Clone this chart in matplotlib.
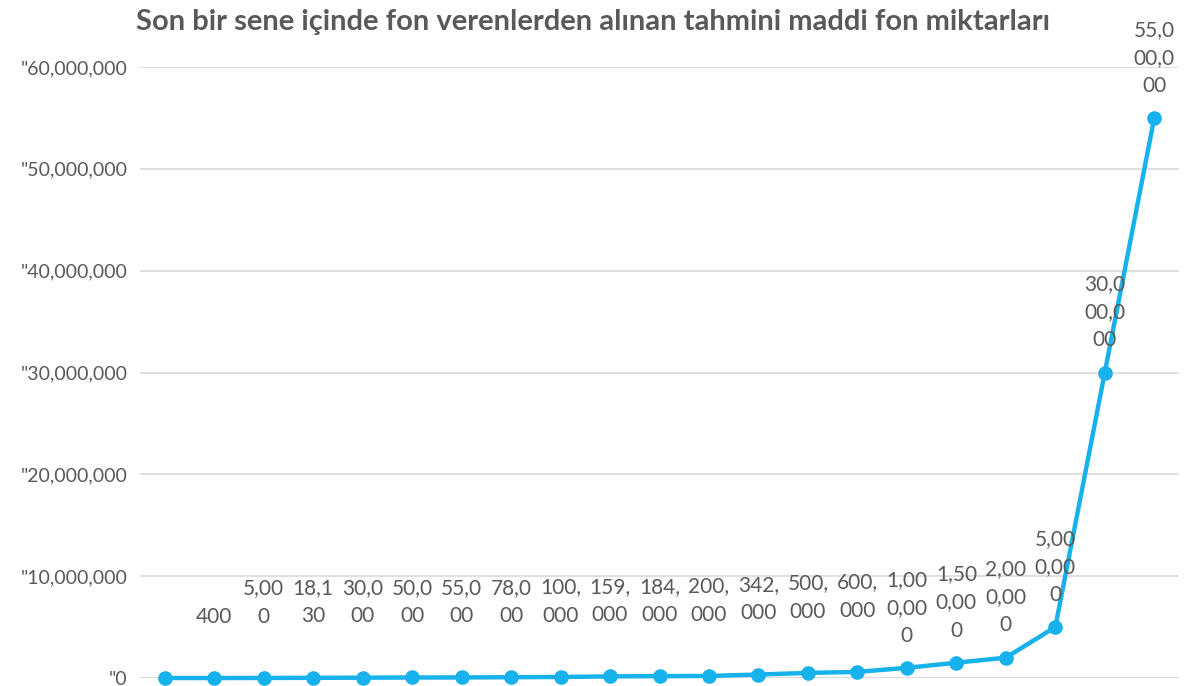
import matplotlib.pyplot as plt
import numpy as np

plt.rcParams['font.family'] = ['Lato', 'DejaVu Sans']

# values (first point carries no visible label)
values = [0, 400, 5000, 18130, 30000, 50000, 55000, 78000, 100000, 159000,
          184000, 200000, 342000, 500000, 600000, 1000000, 1500000, 2000000,
          5000000, 30000000, 55000000]
show_label = [False] + [True] * 20
yticks = [0, 10000000, 20000000, 30000000, 40000000, 50000000, 60000000]

title = 'Son bir sene içinde fon verenlerden alınan tahmini maddi fon miktarları'

line_color = '#17B1EB'
text_color = '#595959'


def wrap_label(v, width=4):
    s = f'{v:,}'
    parts = [s[i:i + width] for i in range(0, len(s), width)]
    return '\n'.join(parts)


fig = plt.figure(figsize=(11.84, 6.86), dpi=100)
ax = fig.add_axes([140 / 1184, 8 / 686, 1039 / 1184, 611 / 686])

x = np.arange(len(values))
ax.plot(x, values, color=line_color, linewidth=3.2, marker='o', markersize=9.5,
        clip_on=False, zorder=3)

for xi, v, show in zip(x, values, show_label):
    if not show:
        continue
    # small values sit higher, like the original layout
    off = 37 if v < 1000000 else 16
    ax.annotate(wrap_label(v), (xi, v), xytext=(0, off), textcoords='offset points',
                ha='center', va='bottom', fontsize=15, color=text_color,
                linespacing=1.5, annotation_clip=False)

ax.set_xlim(-0.5, len(values) - 0.5)
ax.set_ylim(0, 60000000)
ax.set_yticks(yticks)
ax.set_yticklabels(['"' + f'{t:,}' for t in yticks])
ax.set_xticks([])
ax.tick_params(axis='y', length=0, pad=9, labelsize=14, labelcolor=text_color)
ax.grid(axis='y', color='#D9D9D9', linewidth=1.2)
ax.set_axisbelow(True)
for sp in ax.spines.values():
    sp.set_visible(False)
ax.axhline(0, color='#D9D9D9', linewidth=1.2, zorder=1)

fig.text(593 / 1184, 1 - 22 / 686, title, ha='center', va='center',
         fontsize=21, fontweight='bold', color=text_color)

fig.savefig('out.png', dpi=100)
